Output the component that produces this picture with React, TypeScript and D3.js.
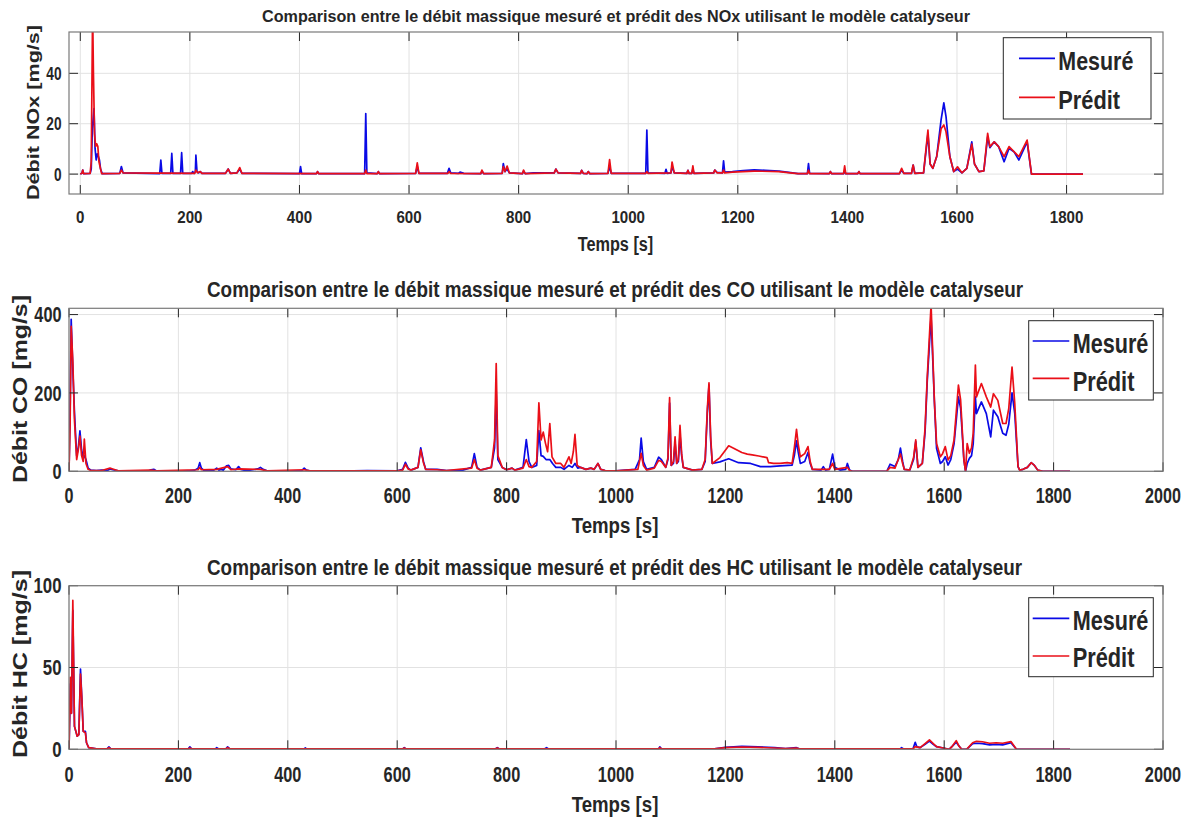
import React from 'react';
import * as d3 from 'd3';

// ---------- DATA ----------
const xTicksNox = [0, 200, 400, 600, 800, 1000, 1200, 1400, 1600, 1800];
const xTicksFull = [0, 200, 400, 600, 800, 1000, 1200, 1400, 1600, 1800, 2000];
const noxYTicks = [0, 20, 40];
const coYTicks = [0, 200, 400];
const hcYTicks = [0, 50, 100];
const legendLabels = ['Mesuré', 'Prédit'];
const titles = [
  'Comparison entre le débit massique mesuré et prédit des NOx utilisant le modèle catalyseur',
  'Comparison entre le débit massique mesuré et prédit des CO utilisant le modèle catalyseur',
  'Comparison entre le débit massique mesuré et prédit des HC utilisant le modèle catalyseur',
];
const yLabels = ['Débit NOx [mg/s]', 'Débit CO [mg/s]', 'Débit HC [mg/s]'];
const xLabel = 'Temps [s]';

// [temps, valeur]
const noxMesure: [number, number][] = [
  [0, 0], [3, 0.3], [4.5, 1.6], [6, 0.2], [18, 0.3], [20, 2], [22, 18], [25, 26], [27, 10], [29, 5.6], [31, 8], [33, 7], [35, 5.6], [37, 2], [40, 0.2],
  [72, 0.3], [75, 3], [78, 0.5], [145, 0.2], [147, 5.6], [149, 0.3], [165, 0.3], [167, 8.2], [169, 0.3],
  [183, 0.3], [185, 8.5], [187, 0.3], [203, 0.3], [205, 1], [208, 0.3], [210, 1], [211, 7.5], [213, 1], [216, 0.5], [219, 1], [222, 0.3],
  [265, 0.3], [270, 2], [274, 0.3], [286, 0.5], [291, 2], [295, 0.3], [400, 0.2], [402, 3], [404, 0.2], [431, 0.2], [433, 1], [435, 0.2],
  [519, 0.2], [521, 24], [523, 0.5], [542, 0.2], [544, 1], [546, 0.2],
  [612, 0.3], [615, 3], [618, 0.3], [670, 0.3], [673, 2.3], [676, 0.5], [690, 0.3], [693, 0.8], [700, 0.3], [731, 0.2], [733, 1.2], [736, 0.2],
  [770, 0.3], [772, 4.2], [775, 1], [779, 2], [783, 0.5], [807, 0.2], [809, 1.2], [812, 0.2], [827, 0.5], [845, 0.5], [865, 0.5], [868, 2], [872, 0.5],
  [913, 0.3], [915, 1.5], [918, 0.3], [925, 0.2], [927, 1], [930, 0.2], [963, 0.3], [966, 3], [969, 0.3],
  [1032, 0.3], [1034, 17.5], [1036, 0.5], [1067, 0.3], [1069, 1.9], [1071, 0.3], [1078, 0.5], [1080, 3], [1084, 0.5], [1107, 0.3], [1109, 1.5], [1111, 0.3],
  [1116, 0.3], [1118, 2], [1120, 0.3], [1156, 0.5], [1158, 1.6], [1162, 0.7], [1172, 0.5], [1174, 5.3], [1176, 0.8],
  [1190, 1], [1210, 1.4], [1230, 1.7], [1250, 1.5], [1275, 1.2], [1300, 0.5], [1310, 0.2],
  [1327, 0.2], [1329, 4.2], [1331, 0.3], [1367, 0.2], [1369, 1], [1371, 0.2], [1393, 0.2], [1395, 1.2], [1397, 0.2], [1419, 0.2], [1421, 1], [1423, 0.2],
  [1495, 0.2], [1499, 1.5], [1503, 0.3], [1517, 0.3], [1520, 3.6], [1523, 0.3], [1539, 0.5], [1547, 16], [1551, 4], [1556, 2.3], [1563, 7],
  [1571, 21.5], [1576, 28.3], [1580, 22.8], [1587, 7], [1594, 1], [1601, 2], [1609, 0.5], [1618, 2.3], [1627, 12.8], [1632, 4], [1640, 1],
  [1649, 1.3], [1656, 14.8], [1660, 10.5], [1668, 12.8], [1676, 10.9], [1686, 4.9], [1695, 10.2], [1704, 8.9], [1713, 5.6], [1728, 12.8],
  [1736, 0], [1830, 0],
];
const noxPredit: [number, number][] = [
  [0, 0], [3, 0.3], [4.5, 1.6], [6, 0.2], [18, 0.3], [20, 5], [22.5, 65], [24, 40], [26, 16], [28, 11], [30, 12], [32, 11], [34, 5], [36, 3], [39, 0.2],
  [72, 0.3], [75, 1.6], [78, 0.5], [209, 0.3], [211, 1.6], [214, 0.5], [219, 1], [222, 0.3], [265, 0.3], [270, 2], [274, 0.3], [286, 0.5], [291, 2.6], [295, 0.3],
  [431, 0.2], [433, 1], [435, 0.2], [519, 0.2], [521, 1.6], [523, 0.2], [542, 0.2], [544, 1], [546, 0.2],
  [612, 0.3], [615, 4.5], [618, 0.3], [671, 0.3], [673, 1], [676, 0.3], [731, 0.2], [733, 1.6], [736, 0.2], [770, 0.3], [772, 3], [775, 1], [779, 3.2], [783, 0.5],
  [807, 0.2], [809, 1.6], [812, 0.2], [865, 0.5], [868, 2], [872, 0.5], [913, 0.3], [915, 1.5], [918, 0.3], [925, 0.2], [927, 1], [930, 0.2],
  [963, 0.3], [966, 5.8], [969, 0.3], [1032, 0.3], [1034, 1], [1036, 0.3], [1078, 0.5], [1080, 4.8], [1084, 0.5], [1107, 0.3], [1109, 1.5], [1111, 0.3],
  [1116, 0.3], [1118, 3.3], [1120, 0.3], [1156, 0.5], [1158, 1.6], [1162, 0.5], [1172, 0.5], [1174, 1.6], [1176, 0.5],
  [1190, 0.8], [1230, 1.2], [1275, 1], [1300, 0.4], [1310, 0.2], [1327, 0.2], [1329, 1.6], [1331, 0.2], [1367, 0.2], [1369, 1], [1371, 0.2],
  [1393, 0.2], [1395, 3.3], [1397, 0.2], [1419, 0.2], [1421, 1], [1423, 0.2], [1495, 0.2], [1499, 2.3], [1503, 0.3], [1517, 0.3], [1520, 3.6], [1523, 0.3],
  [1539, 0.5], [1547, 17.5], [1551, 4], [1556, 2.3], [1563, 7], [1571, 18], [1576, 19.5], [1580, 16.8], [1587, 7], [1594, 1], [1601, 2.9], [1609, 0.5],
  [1618, 2.3], [1627, 11.9], [1632, 4], [1640, 1], [1649, 1.3], [1656, 16.2], [1660, 10.9], [1668, 12.8], [1676, 10.9], [1686, 6.9], [1695, 10.9],
  [1704, 8.9], [1713, 6.9], [1728, 13.5], [1736, 0], [1830, 0],
];

const coMesure: [number, number][] = [
  [0, 0], [2, 150], [4, 388], [7, 260], [10, 150], [14, 40], [17, 60], [20, 103], [23, 55], [26, 35], [28, 40], [31, 30], [35, 8], [40, 3], [50, 2], [60, 3],
  [70, 2], [75, 6], [80, 4], [90, 1], [145, 1], [150, 4], [155, 5], [160, 1], [220, 1], [230, 3], [236, 8], [239, 22], [242, 8], [246, 3], [265, 3], [270, 8],
  [274, 3], [278, 5], [282, 3], [288, 14], [292, 15], [296, 6], [305, 4], [310, 12], [314, 5], [320, 3], [328, 2], [345, 6], [350, 10], [355, 5], [362, 1],
  [425, 1], [430, 8], [434, 3], [440, 1], [520, 1], [545, 2], [600, 1],
  [610, 5], [615, 23], [620, 8], [625, 3], [638, 10], [643, 60], [648, 25], [652, 5], [673, 5], [690, 2], [720, 3], [736, 10], [741, 45], [746, 10], [752, 3],
  [772, 10], [778, 60], [781, 204], [784, 30], [792, 10], [800, 4], [810, 8], [815, 3], [830, 10], [836, 81], [841, 25], [846, 10], [855, 15], [859, 104],
  [863, 40], [867, 38], [872, 30], [879, 30], [884, 20], [890, 10], [899, 10], [905, 5], [914, 15], [920, 10], [925, 20], [930, 8], [935, 10], [945, 5],
  [954, 8], [960, 5], [967, 20], [972, 5], [980, 2], [1000, 1], [1035, 5], [1043, 30], [1046, 85], [1050, 25], [1056, 5], [1070, 10], [1078, 36], [1083, 30],
  [1087, 20], [1091, 10], [1095, 30], [1098, 174], [1101, 15], [1105, 20], [1108, 74], [1111, 20], [1114, 25], [1117, 93], [1120, 40], [1123, 10],
  [1140, 3], [1157, 5], [1163, 25], [1167, 150], [1170, 220], [1173, 80], [1176, 20], [1190, 24], [1206, 32], [1224, 22], [1246, 20], [1264, 12],
  [1282, 12], [1300, 14], [1322, 16], [1326, 40], [1330, 78], [1333, 50], [1337, 20], [1345, 25], [1351, 48], [1355, 20], [1359, 5], [1375, 3],
  [1379, 12], [1383, 3], [1390, 5], [1396, 44], [1400, 10], [1410, 3], [1420, 5], [1423, 20], [1427, 3], [1432, 0], [1495, 0], [1501, 18], [1510, 12],
  [1516, 30], [1520, 59], [1524, 25], [1527, 5], [1537, 3], [1544, 30], [1548, 76], [1552, 10], [1560, 20], [1565, 100], [1569, 230], [1576, 395],
  [1582, 180], [1586, 59], [1593, 20], [1597, 25], [1602, 37], [1607, 16], [1612, 30], [1618, 70], [1626, 190], [1630, 161], [1636, 29], [1639, 0],
  [1642, 20], [1646, 33], [1650, 40], [1653, 70], [1657, 190], [1659, 147], [1668, 177], [1677, 147], [1685, 88], [1690, 156], [1698, 139], [1707, 97],
  [1713, 92], [1718, 120], [1724, 200], [1729, 147], [1735, 12], [1738, 3], [1744, 5], [1752, 10], [1759, 22], [1765, 15], [1771, 3], [1780, 0], [1830, 0],
];
const coPredit: [number, number][] = [
  [0, 0], [2, 120], [4, 370], [7, 280], [10, 130], [14, 30], [17, 55], [20, 90], [23, 40], [26, 25], [28, 82], [31, 20], [35, 5], [40, 2], [50, 2], [60, 2],
  [75, 8], [80, 6], [90, 1], [150, 3], [160, 1], [236, 4], [239, 10], [242, 4], [270, 5], [290, 12], [296, 4], [310, 6], [350, 5], [362, 1], [430, 4], [440, 1],
  [600, 1], [610, 3], [615, 18], [620, 6], [625, 3], [638, 10], [643, 55], [648, 22], [652, 5], [673, 4], [690, 2], [736, 8], [741, 30], [746, 8], [752, 3],
  [772, 10], [778, 80], [781, 275], [784, 40], [792, 10], [800, 4], [810, 8], [815, 3], [830, 8], [836, 30], [841, 12], [846, 10], [855, 25], [859, 175],
  [863, 80], [867, 100], [871, 72], [875, 50], [879, 122], [883, 37], [890, 20], [899, 20], [905, 10], [914, 37], [918, 20], [922, 50], [925, 94], [929, 15],
  [935, 10], [945, 5], [954, 8], [960, 5], [967, 20], [972, 5], [980, 2], [1000, 1], [1040, 5], [1046, 46], [1050, 15], [1056, 3], [1070, 8], [1078, 28],
  [1083, 25], [1091, 10], [1095, 35], [1098, 188], [1101, 15], [1105, 25], [1108, 88], [1111, 20], [1114, 30], [1117, 117], [1120, 45], [1123, 10],
  [1140, 3], [1157, 5], [1163, 30], [1167, 160], [1170, 226], [1173, 90], [1176, 20], [1190, 35], [1200, 54], [1206, 65], [1215, 59], [1230, 48],
  [1240, 44], [1249, 42], [1261, 39], [1276, 35], [1279, 22], [1288, 20], [1300, 20], [1313, 22], [1322, 20], [1326, 60], [1330, 107], [1333, 70],
  [1337, 37], [1345, 45], [1351, 63], [1355, 25], [1359, 5], [1379, 5], [1390, 5], [1396, 20], [1400, 5], [1423, 10], [1427, 2], [1432, 0], [1495, 0],
  [1501, 10], [1510, 8], [1516, 30], [1520, 44], [1524, 20], [1527, 5], [1537, 3], [1544, 35], [1548, 80], [1552, 10], [1560, 20], [1565, 110],
  [1569, 240], [1576, 425], [1582, 182], [1586, 71], [1593, 37], [1597, 45], [1602, 63], [1607, 29], [1612, 40], [1618, 80], [1626, 220], [1630, 182],
  [1636, 29], [1639, 0], [1642, 71], [1646, 46], [1650, 60], [1653, 97], [1657, 271], [1659, 190], [1668, 224], [1677, 190], [1685, 164], [1690, 198],
  [1698, 181], [1707, 122], [1713, 122], [1718, 160], [1724, 266], [1729, 173], [1735, 12], [1738, 3], [1744, 5], [1752, 10], [1759, 22], [1765, 15],
  [1771, 3], [1780, 0], [1830, 0],
];

const hcMesure: [number, number][] = [
  [0, 0], [2.7, 40], [4.5, 22], [7, 85], [10, 14], [15, 8], [18, 9], [21, 49], [23.5, 31], [26, 11], [30, 11], [32, 4], [36, 1], [50, 0.3], [70, 0.5],
  [73, 1.5], [76, 0.5], [150, 0.3], [218, 0.3], [221, 1.5], [224, 0.3], [268, 0.3], [270, 1], [273, 0.3], [287, 0.3], [290, 1.5], [294, 0.3],
  [430, 0.3], [432, 0.8], [434, 0.2], [610, 0.2], [613, 1], [616, 0.2], [780, 0.3], [783, 1], [786, 0.3], [870, 0.3], [873, 1], [876, 0.3],
  [1078, 0.3], [1080, 1.5], [1083, 0.3], [1180, 0.3], [1200, 1.2], [1230, 1.8], [1260, 1.5], [1290, 1], [1310, 0.5], [1330, 1], [1335, 0.3],
  [1520, 0.3], [1522, 1], [1525, 0.3], [1543, 0.3], [1547, 4.3], [1550, 1.5], [1556, 1], [1565, 3], [1573, 5], [1580, 3], [1586, 1.6], [1598, 0.8],
  [1609, 0], [1615, 2], [1622, 4.3], [1627, 2], [1632, 0], [1641, 0], [1652, 3.5], [1659, 3.7], [1670, 3.5], [1683, 2.7], [1695, 3], [1707, 2.7],
  [1722, 4.1], [1732, 0], [1830, 0],
];
const hcPredit: [number, number][] = [
  [0, 0], [2.7, 44], [4.5, 22], [7, 91], [10, 14], [15, 8], [18, 9], [21, 46], [23.5, 31], [26, 11], [30, 10], [32, 4], [36, 1], [50, 0.3], [70, 0.3],
  [73, 1], [76, 0.3], [218, 0.3], [221, 0.8], [224, 0.3], [287, 0.3], [290, 1], [294, 0.3], [610, 0.2], [613, 0.8], [616, 0.2], [780, 0.3], [783, 0.8],
  [786, 0.3], [1078, 0.3], [1080, 1], [1083, 0.3], [1180, 0.3], [1200, 1], [1230, 1.4], [1260, 1.2], [1290, 0.8], [1310, 0.4], [1330, 0.8], [1335, 0.3],
  [1543, 0.3], [1547, 1.6], [1556, 1], [1565, 3.5], [1573, 5.7], [1580, 3.5], [1586, 1.6], [1598, 0.8], [1609, 0], [1615, 2], [1622, 5.3], [1627, 2],
  [1632, 0], [1641, 0], [1652, 4], [1659, 4.9], [1670, 4.6], [1683, 3.7], [1695, 4], [1707, 3.7], [1722, 4.7], [1732, 0], [1830, 0],
];

// ---------- RENDERING ----------
const FONT = "'Liberation Sans Narrow', 'Arial Narrow', 'Liberation Sans', Arial, sans-serif";
const FONT_WIDE = "'Liberation Sans', Arial, Helvetica, sans-serif";
const BLUE = '#0a0ae6';
const RED = '#ea0f18';

type TProps = {
  x: number; y: number; size: number; len?: number; anchor?: string; rotate?: boolean; wide?: boolean; children: string;
};
function T({ x, y, size, len, anchor = 'middle', rotate = false, wide = false, children }: TProps) {
  const common: any = {
    fontFamily: wide ? FONT_WIDE : FONT, fontWeight: 'bold', fontSize: size, fill: '#262626', textAnchor: anchor,
  };
  if (len) { common.textLength = len; common.lengthAdjust = 'spacingAndGlyphs'; }
  if (rotate) {
    return <text transform={`translate(${x},${y}) rotate(-90)`} {...common}>{children}</text>;
  }
  return <text x={x} y={y} {...common}>{children}</text>;
}

// tick label: compressed horizontally by a transform so its box stays tight
function TickLabel({ x, y, size, sx, anchor = 'middle', children }: { x: number; y: number; size: number; sx: number; anchor?: string; children: string }) {
  return (
    <text transform={`translate(${x},${y}) scale(${sx},1)`} fontFamily={FONT_WIDE} fontWeight="bold" fontSize={size} fill="#262626" textAnchor={anchor}>
      {children}
    </text>
  );
}

type PanelCfg = {
  id: string;
  left: number; right: number; top: number; bottom: number;
  xDomain: [number, number]; yDomain: [number, number];
  xTicks: number[]; yTicks: number[];
  mes: [number, number][]; pre: [number, number][];
  title: string; titleY: number; titleSize: number; titleLen: number; titleX: number;
  ylabel: string; ylabelX: number; ylabelY: number; ylabelSize: number; ylabelLen: number;
  tickSize: number; tickBase: number; tickSx: number;
  yTickSize: number; yTickSx: number;
  xlabX: number; xlabY: number; xlabSize: number; xlabLen: number;
  leg: { x0: number; x1: number; y0: number; y1: number; lineX0: number; lineX1: number; textX: number; lineY: number[]; textY: number[]; size: number; lens: number[] };
};

function Panel({ c }: { c: PanelCfg }) {
  const x = d3.scaleLinear().domain(c.xDomain).range([c.left, c.right]);
  const y = d3.scaleLinear().domain(c.yDomain).range([c.bottom, c.top]);
  const line = d3.line<[number, number]>().x(d => x(d[0])).y(d => y(d[1]));
  const tl = 9;
  return (
    <g>
      <defs>
        <clipPath id={`clip-${c.id}`}>
          <rect x={c.left} y={c.top} width={c.right - c.left} height={c.bottom - c.top} />
        </clipPath>
      </defs>
      <rect x={c.left} y={c.top} width={c.right - c.left} height={c.bottom - c.top} fill="#fff" />
      {c.xTicks.map(t => (
        <line key={`gx${t}`} x1={x(t)} x2={x(t)} y1={c.top} y2={c.bottom} stroke="#e2e2e2" strokeWidth={1} />
      ))}
      {c.yTicks.map(t => (
        <line key={`gy${t}`} x1={c.left} x2={c.right} y1={y(t)} y2={y(t)} stroke="#e2e2e2" strokeWidth={1} />
      ))}
      <g clipPath={`url(#clip-${c.id})`}>
        <path d={line(c.mes) || ''} fill="none" stroke={BLUE} strokeWidth={1.7} strokeLinejoin="round" />
        <path d={line(c.pre) || ''} fill="none" stroke={RED} strokeWidth={1.7} strokeLinejoin="round" />
      </g>
      {c.xTicks.map(t => (
        <g key={`tx${t}`}>
          <line x1={x(t)} x2={x(t)} y1={c.bottom} y2={c.bottom - tl} stroke="#262626" strokeWidth={1} />
          <line x1={x(t)} x2={x(t)} y1={c.top} y2={c.top + tl} stroke="#262626" strokeWidth={1} />
        </g>
      ))}
      {c.yTicks.map(t => (
        <g key={`ty${t}`}>
          <line x1={c.left} x2={c.left + tl} y1={y(t)} y2={y(t)} stroke="#262626" strokeWidth={1} />
          <line x1={c.right} x2={c.right - tl} y1={y(t)} y2={y(t)} stroke="#262626" strokeWidth={1} />
        </g>
      ))}
      <rect x={c.left} y={c.top} width={c.right - c.left} height={c.bottom - c.top} fill="none" stroke="#7a7a7a" strokeWidth={1.2} />
      {c.xTicks.map(t => (
        <TickLabel key={`lx${t}`} x={x(t)} y={c.tickBase} size={c.tickSize} sx={c.tickSx}>{String(t)}</TickLabel>
      ))}
      {c.yTicks.map(t => (
        <TickLabel key={`ly${t}`} x={c.left - 7.5} y={y(t) + c.yTickSize * 0.36} size={c.yTickSize} sx={c.yTickSx} anchor="end">{String(t)}</TickLabel>
      ))}
      <T x={c.titleX} y={c.titleY} size={c.titleSize} len={c.titleLen}>{c.title}</T>
      <T x={c.xlabX} y={c.xlabY} size={c.xlabSize} len={c.xlabLen}>{xLabel}</T>
      <T x={c.ylabelX} y={c.ylabelY} size={c.ylabelSize} len={c.ylabelLen} rotate wide>{c.ylabel}</T>
      <rect x={c.leg.x0} y={c.leg.y0} width={c.leg.x1 - c.leg.x0} height={c.leg.y1 - c.leg.y0} fill="#fff" stroke="#262626" strokeWidth={1} />
      {legendLabels.map((lab, i) => (
        <g key={lab}>
          <line x1={c.leg.lineX0} x2={c.leg.lineX1} y1={c.leg.lineY[i]} y2={c.leg.lineY[i]} stroke={i === 0 ? BLUE : RED} strokeWidth={1.7} />
          <T x={c.leg.textX} y={c.leg.textY[i]} size={c.leg.size} anchor="start" len={c.leg.lens[i]}>{lab}</T>
        </g>
      ))}
    </g>
  );
}

const panels: PanelCfg[] = [
  {
    id: 'nox', left: 69, right: 1163, top: 32, bottom: 194,
    xDomain: [-20.6, 1976], yDomain: [-7.9, 56.4], xTicks: xTicksNox, yTicks: noxYTicks,
    mes: noxMesure, pre: noxPredit,
    title: titles[0], titleX: 616, titleY: 21.7, titleSize: 17.3, titleLen: 708,
    ylabel: yLabels[0], ylabelX: 39.3, ylabelY: 112.5, ylabelSize: 16.8, ylabelLen: 175,
    tickSize: 16.8, tickBase: 222.7, tickSx: 0.9, yTickSize: 18, yTickSx: 0.76,
    xlabX: 615.5, xlabY: 250.7, xlabSize: 20, xlabLen: 75.6,
    leg: { x0: 1003.3, x1: 1151, y0: 37.7, y1: 119, lineX0: 1019, lineX1: 1055, textX: 1058.3, lineY: [58.3, 97.3], textY: [70, 109.3], size: 25.5, lens: [75, 61.7] },
  },
  {
    id: 'co', left: 69, right: 1163, top: 308.3, bottom: 471.3,
    xDomain: [0, 2000], yDomain: [0, 416], xTicks: xTicksFull, yTicks: coYTicks,
    mes: coMesure, pre: coPredit,
    title: titles[1], titleX: 615, titleY: 297.3, titleSize: 21.8, titleLen: 816,
    ylabel: yLabels[1], ylabelX: 26.7, ylabelY: 389, ylabelSize: 19.5, ylabelLen: 188,
    tickSize: 21.5, tickBase: 503.3, tickSx: 0.75, yTickSize: 22, yTickSx: 0.74,
    xlabX: 615, xlabY: 533.3, xlabSize: 21.5, xlabLen: 86.7,
    leg: { x0: 1028.7, x1: 1153.3, y0: 320.7, y1: 400, lineX0: 1032.7, lineX1: 1069.3, textX: 1072.7, lineY: [341, 378.3], textY: [352.7, 390.7], size: 27, lens: [75.7, 61.7] },
  },
  {
    id: 'hc', left: 69, right: 1163, top: 585.7, bottom: 749.3,
    xDomain: [0, 2000], yDomain: [0, 100], xTicks: xTicksFull, yTicks: hcYTicks,
    mes: hcMesure, pre: hcPredit,
    title: titles[2], titleX: 614.5, titleY: 575, titleSize: 21.8, titleLen: 815,
    ylabel: yLabels[2], ylabelX: 26.7, ylabelY: 664, ylabelSize: 19.5, ylabelLen: 188,
    tickSize: 21.5, tickBase: 781.7, tickSx: 0.76, yTickSize: 21.5, yTickSx: 0.78,
    xlabX: 615, xlabY: 811.7, xlabSize: 21.5, xlabLen: 86.7,
    leg: { x0: 1028.7, x1: 1153.3, y0: 597.7, y1: 676.7, lineX0: 1032.7, lineX1: 1069.3, textX: 1072.7, lineY: [618.3, 656], textY: [630, 667.3], size: 27, lens: [75.7, 61.7] },
  },
];

export default function App() {
  return (
    <svg width={1190} height={823} style={{ position: 'absolute', left: 0, top: 0, background: '#fff' }}>
      <rect x={0} y={0} width={1190} height={823} fill="#fff" />
      {panels.map(p => <Panel key={p.id} c={p} />)}
    </svg>
  );
}
